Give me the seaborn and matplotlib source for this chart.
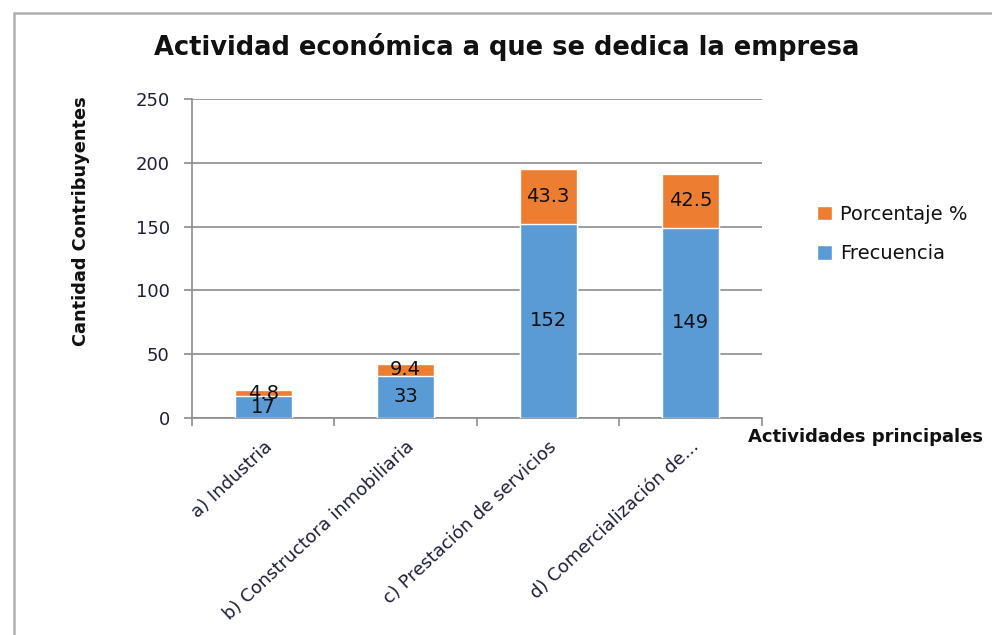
import matplotlib
matplotlib.use("Agg")
import matplotlib.pyplot as plt
import seaborn as sns
import numpy as np
import pandas as pd
from matplotlib.patches import Patch

categories = ["a) Industria", "b) Constructora inmobiliaria",
              "c) Prestación de servicios", "d) Comercialización de..."]
frecuencia = [17, 33, 152, 149]
porcentaje = [4.8, 9.4, 43.3, 42.5]
yticks = [0, 50, 100, 150, 200, 250]

blue = "#5b9bd5"
orange = "#ed7d31"
tickcol = "#1f1f3a"

sns.set_theme(style="white")
plt.rcParams['font.family'] = ['DejaVu Sans']

fig = plt.figure(figsize=(9.92, 6.35), dpi=100)
ax = fig.add_axes([0.1935, 0.3417, 0.5746, 0.5026])

totals = [f + p for f, p in zip(frecuencia, porcentaje)]
df = pd.DataFrame({"cat": categories, "frec": frecuencia, "pct": porcentaje, "tot": totals})

sns.barplot(data=df, x="cat", y="tot", color=orange, saturation=1, width=0.4, ax=ax, zorder=3)
sns.barplot(data=df, x="cat", y="frec", color=blue, saturation=1, width=0.4, ax=ax, zorder=3)

ax.set_ylim(0, 250)
ax.set_xlim(-0.5, 3.5)
ax.set_yticks(yticks)
ax.yaxis.grid(True, color="#8c8c8c", linewidth=1.2, zorder=0)
ax.set_axisbelow(True)
for s in ["top", "right"]:
    ax.spines[s].set_visible(False)
for s in ["left", "bottom"]:
    ax.spines[s].set_color("#8c8c8c")
    ax.spines[s].set_linewidth(1.2)

ax.tick_params(axis="y", which="major", direction="out", length=6, color="#8c8c8c",
               width=1.2, left=True, labelsize=13, labelcolor=tickcol, pad=10)
ax.set_xticks(range(len(categories)))
ax.set_xticklabels(categories, rotation=43, ha="right", rotation_mode="anchor",
                   fontsize=13, color=tickcol)
ax.tick_params(axis="x", which="major", length=0, pad=14)
ax.set_xticks([-0.5, 0.5, 1.5, 2.5, 3.5], minor=True)
ax.tick_params(axis="x", which="minor", direction="out", length=6, color="#8c8c8c",
               width=1.2, bottom=True)
for lab in ax.get_xticklabels():
    lab.set_family(["DejaVu Sans"])
for lab in ax.get_yticklabels():
    lab.set_family(["DejaVu Sans"])
ax.set_xlabel("")
ax.set_ylabel("")

for i, (f, p) in enumerate(zip(frecuencia, porcentaje)):
    ax.text(i, f / 2, f"{f}", ha="center", va="center", fontsize=14,
            family=["DejaVu Sans"], color="#111111", zorder=5)
    ax.text(i, f + p / 2, f"{p}", ha="center", va="center", fontsize=14,
            family=["DejaVu Sans"], color="#111111", zorder=5)

fig.text(0.511, 0.926, "Actividad económica a que se dedica la empresa",
         ha="center", va="center", fontsize=18.5, fontweight="bold",
         family=["DejaVu Sans"], color="#111111")
fig.text(0.082, 0.652, "Cantidad Contribuyentes", rotation=90, ha="center", va="center",
         fontsize=12.8, fontweight="bold", family=["DejaVu Sans"],
         color="#111111")
fig.text(0.872, 0.312, "Actividades principales", ha="center", va="center",
         fontsize=13, fontweight="bold", family=["DejaVu Sans"], color="#111111")

handles = [Patch(facecolor=orange, label="Porcentaje %"),
           Patch(facecolor=blue, label="Frecuencia")]
fig.legend(handles=handles, loc="upper left", bbox_to_anchor=(0.806, 0.705),
           frameon=False, prop={"family": "DejaVu Sans", "size": 14},
           handlelength=0.75, handleheight=0.75,
           handletextpad=0.45, labelspacing=1.05, labelcolor="#111111")

# sheet frame lines
fig.add_artist(plt.Line2D([0.014, 0.014], [0, 0.98], color="#b0b0b0", lw=1.8))
fig.add_artist(plt.Line2D([0.014, 1.0], [0.98, 0.98], color="#b0b0b0", lw=1.8))

fig.savefig("out.png", dpi=100)
